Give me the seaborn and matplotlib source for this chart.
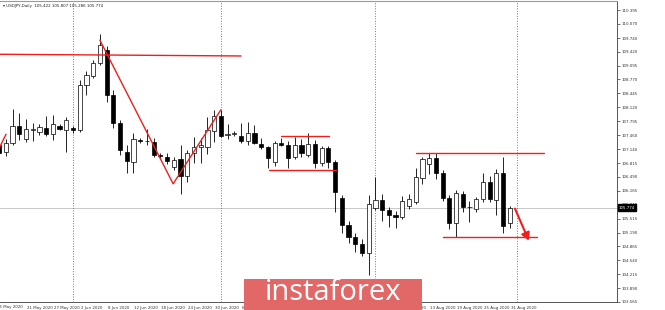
import matplotlib
matplotlib.use("Agg")
import matplotlib.pyplot as plt
import matplotlib.patches as mpatches
import matplotlib.transforms as mtrans
import seaborn as sns
import numpy as np
import pandas as pd

# ---------------- data (USDJPY daily) ----------------
dates = ["15 May 2020", "18 May 2020", "19 May 2020", "20 May 2020", "21 May 2020",
         "22 May 2020", "25 May 2020", "26 May 2020", "27 May 2020", "28 May 2020",
         "29 May 2020", "1 Jun 2020", "2 Jun 2020", "3 Jun 2020", "4 Jun 2020",
         "5 Jun 2020", "8 Jun 2020", "9 Jun 2020", "10 Jun 2020", "11 Jun 2020",
         "12 Jun 2020", "15 Jun 2020", "16 Jun 2020", "17 Jun 2020", "18 Jun 2020",
         "19 Jun 2020", "22 Jun 2020", "23 Jun 2020", "24 Jun 2020", "25 Jun 2020",
         "26 Jun 2020", "29 Jun 2020", "30 Jun 2020", "1 Jul 2020", "2 Jul 2020",
         "3 Jul 2020", "6 Jul 2020", "7 Jul 2020", "8 Jul 2020", "9 Jul 2020",
         "10 Jul 2020", "13 Jul 2020", "14 Jul 2020", "15 Jul 2020", "16 Jul 2020",
         "17 Jul 2020", "20 Jul 2020", "21 Jul 2020", "22 Jul 2020", "23 Jul 2020",
         "24 Jul 2020", "27 Jul 2020", "28 Jul 2020", "29 Jul 2020", "30 Jul 2020",
         "31 Jul 2020", "3 Aug 2020", "4 Aug 2020", "5 Aug 2020", "6 Aug 2020",
         "7 Aug 2020", "10 Aug 2020", "11 Aug 2020", "12 Aug 2020", "13 Aug 2020",
         "14 Aug 2020", "17 Aug 2020", "18 Aug 2020", "19 Aug 2020", "20 Aug 2020",
         "21 Aug 2020", "24 Aug 2020", "25 Aug 2020", "26 Aug 2020", "27 Aug 2020",
         "28 Aug 2020", "31 Aug 2020"]

opens = [107.24, 107.07, 107.28, 107.68, 107.38, 107.60, 107.54, 107.63, 107.49, 107.68,
         107.59, 107.64, 107.59, 108.64, 108.85, 109.16, 109.45, 108.41, 107.75, 107.07,
         106.84, 107.35, 107.33, 107.31, 106.99, 106.96, 106.72, 106.91, 106.51, 107.05,
         107.19, 107.20, 107.56, 107.92, 107.46, 107.49, 107.45, 107.33, 107.52, 107.26,
         107.19, 106.84, 107.28, 107.24, 106.96, 107.24, 107.00, 107.26, 106.82, 107.17,
         106.84, 106.00, 105.37, 105.09, 104.92, 104.71, 105.76, 105.95, 105.72, 105.60,
         105.55, 105.81, 105.90, 106.46, 106.79, 106.93, 106.58, 106.00, 105.42, 106.09,
         105.79, 105.74, 105.97, 106.37, 105.95, 106.58, 105.422]

highs = [107.40, 107.38, 108.08, 107.99, 107.85, 107.75, 107.72, 107.92, 107.95, 107.73,
         107.89, 107.68, 108.76, 108.97, 109.22, 109.83, 109.55, 108.52, 107.82, 107.24,
         107.52, 107.40, 107.62, 107.40, 107.05, 107.05, 106.96, 107.24, 107.12, 107.42,
         107.40, 107.90, 108.05, 108.06, 107.72, 107.56, 107.75, 107.78, 107.70, 107.40,
         107.21, 107.33, 107.40, 107.33, 107.42, 107.38, 107.52, 107.35, 107.22, 107.22,
         106.89, 106.07, 105.45, 105.18, 105.05, 106.07, 106.49, 106.10, 105.79, 105.70,
         106.05, 106.10, 106.70, 106.96, 107.05, 107.05, 106.65, 106.07, 106.18, 106.15,
         105.93, 106.02, 106.58, 106.52, 106.68, 106.96, 105.807]

lows = [106.97, 106.98, 107.24, 107.35, 107.31, 107.33, 107.47, 107.45, 107.35, 107.58,
        107.07, 107.52, 107.54, 108.41, 108.80, 109.11, 108.24, 107.63, 107.00, 106.58,
        106.58, 107.28, 107.24, 106.95, 106.93, 106.79, 106.66, 106.09, 106.37, 106.82,
        106.82, 107.02, 107.30, 107.42, 107.38, 107.45, 107.28, 107.24, 107.26, 107.14,
        106.70, 106.75, 107.22, 106.70, 106.90, 106.95, 106.96, 106.70, 106.75, 106.70,
        105.67, 105.18, 104.95, 104.74, 104.65, 104.20, 105.72, 105.45, 105.32, 105.30,
        105.50, 105.75, 105.85, 106.33, 106.56, 106.44, 105.92, 105.28, 105.09, 105.68,
        105.44, 105.68, 105.90, 105.90, 105.60, 105.18, 105.286]

closes = [107.05, 107.28, 107.68, 107.49, 107.61, 107.62, 107.66, 107.49, 107.73, 107.61,
          107.82, 107.59, 108.64, 108.87, 109.16, 109.58, 108.41, 107.75, 107.12, 106.86,
          107.38, 107.33, 107.34, 107.00, 106.98, 106.86, 106.89, 106.51, 107.05, 107.19,
          107.24, 107.60, 107.92, 107.45, 107.49, 107.51, 107.33, 107.52, 107.28, 107.19,
          106.93, 107.28, 107.24, 106.93, 107.24, 107.05, 107.26, 106.82, 107.17, 106.84,
          106.14, 105.37, 105.09, 104.92, 104.71, 105.86, 105.95, 105.72, 105.60, 105.55,
          105.92, 105.97, 106.49, 106.91, 106.93, 106.58, 106.00, 105.42, 106.11, 105.79,
          105.78, 105.97, 106.37, 105.97, 106.58, 105.35, 105.774]

y_tick_values = [110.395, 110.070, 109.740, 109.420, 109.095, 108.770, 108.445, 108.120,
                 107.795, 107.460, 107.140, 106.815, 106.490, 106.165, 105.840, 105.515,
                 105.190, 104.865, 104.540, 104.215, 103.890, 103.565]

x_tick_index = list(range(4, 77, 4))
separator_index = [11, 33, 56, 77]
last_price = 105.774
title_text = "USDJPY,Daily  105.422 105.807 105.286 105.774"

# red drawings (bar index, price)
res_line_x = [0.13, 36.0]
res_line_y = [109.36, 109.32]
zig_left_x = [0.13, 1.03]
zig_left_y = [107.20, 107.49]
zig_x = [15.0, 25.9, 33.0]
zig_y = [109.69, 106.33, 108.06]
box_top_x = [42.0, 49.1]
box_top_y = [107.45, 107.45]
box_bot_x = [40.1, 50.2]
box_bot_y = [106.65, 106.65]
rng_top_x = [62.0, 81.1]
rng_top_y = [107.04, 107.04]
rng_bot_x = [66.1, 80.0]
rng_bot_y = [105.09, 105.09]
arrow_x = [76.6, 79.0]
arrow_y = [105.81, 104.94]

# ---------------- figure ----------------
sns.set_style("white")
plt.rcParams['font.family'] = ['DejaVu Sans']

W, H = 665, 310
FS = 2.9
fig = plt.figure(figsize=(W / 100, H / 100), dpi=100)
ax = fig.add_axes([0, 8 / H, 617 / W, 301 / H])

df = pd.DataFrame(dict(date=dates, o=opens, h=highs, l=lows, c=closes))
df["i"] = np.arange(len(df))
df["up"] = df["c"] >= df["o"]

# current price line and separators
ax.axhline(last_price, color="#c8c8c8", lw=0.7, zorder=1)
for s in separator_index:
    ax.axvline(s, color="#7a7a7a", lw=0.7, ls=(0, (1, 1.6)), zorder=1)

# candles
ax.vlines(df["i"], df["l"], df["h"], color="black", lw=0.6, zorder=2)
bottom = np.minimum(df["o"], df["c"])
height = np.maximum(np.abs(df["c"] - df["o"]), 0.012)
ax.bar(df["i"], height, bottom=bottom, width=0.62,
       color=np.where(df["up"], "white", "black"),
       edgecolor="black", linewidth=0.5, zorder=3)

red = "#f21d1d"
for xs, ys in [(res_line_x, res_line_y), (zig_left_x, zig_left_y), (zig_x, zig_y),
               (box_top_x, box_top_y), (box_bot_x, box_bot_y),
               (rng_top_x, rng_top_y), (rng_bot_x, rng_bot_y)]:
    sns.lineplot(x=xs, y=ys, ax=ax, color=red, lw=1.0, sort=False, zorder=4)
ax.annotate("", xy=(arrow_x[1], arrow_y[1]), xytext=(arrow_x[0], arrow_y[0]),
            arrowprops=dict(arrowstyle="-|>,head_length=0.45,head_width=0.25",
                            color=red, lw=1.5), zorder=5)

# axes limits and styling
ax.set_xlim(0.134, 91.95)
ax.set_ylim(103.565, 110.606)
ax.spines["left"].set_visible(False)
ax.spines["top"].set_color("#9a9a9a")
ax.spines["top"].set_linewidth(0.8)
for side in ["right", "bottom"]:
    ax.spines[side].set_color("#555555")
    ax.spines[side].set_linewidth(0.7)

ax.yaxis.tick_right()
ax.set_yticks(y_tick_values)
ax.set_yticklabels([f"{v:.3f}" for v in y_tick_values])
ax.tick_params(axis="y", direction="out", length=2, width=0.5, pad=1.5,
               labelsize=FS, colors="#333333")
ax.set_xticks(x_tick_index)
ax.set_xticklabels([dates[i] for i in x_tick_index], ha="left")
ax.tick_params(axis="x", direction="out", length=2, width=0.5, pad=1.2,
               labelsize=FS, colors="#333333")
for lab in ax.get_xticklabels():
    lab.set_transform(lab.get_transform() + mtrans.ScaledTranslation(1 / 100, 0, fig.dpi_scale_trans))
# first (cut) date label, partly outside the canvas like the reference
fig.text(-3 / W, 8 / H - 3.2 / H, dates[0], ha="left", va="top",
         fontsize=FS, color="#333333")
ax.set_xlabel("")
ax.set_ylabel("")
ax.grid(False)

# current price tag
ax.text(1.003, last_price, f"{last_price:.3f}", transform=ax.get_yaxis_transform(),
        ha="left", va="center", fontsize=FS, color="white", zorder=10, clip_on=False,
        bbox=dict(boxstyle="square,pad=0.3", fc="black", ec="black"))

# title
fig.text(3 / W, 1 - 6 / H, "\u25be " + title_text, ha="left", va="center",
         fontsize=FS, color="#222222")

# watermark
fig.patches.append(mpatches.Rectangle((244 / W, 0), (422 - 244) / W, (310 - 279) / H,
                                      transform=fig.transFigure, fc="#e26868", ec="none",
                                      zorder=20))
fig.text(333 / W, 1 - 293 / H, "instaforex", ha="center", va="center", fontsize=21,
         color="white", family=["Open Sans", "DejaVu Sans"], zorder=21)

fig.savefig("out.png", dpi=100)
